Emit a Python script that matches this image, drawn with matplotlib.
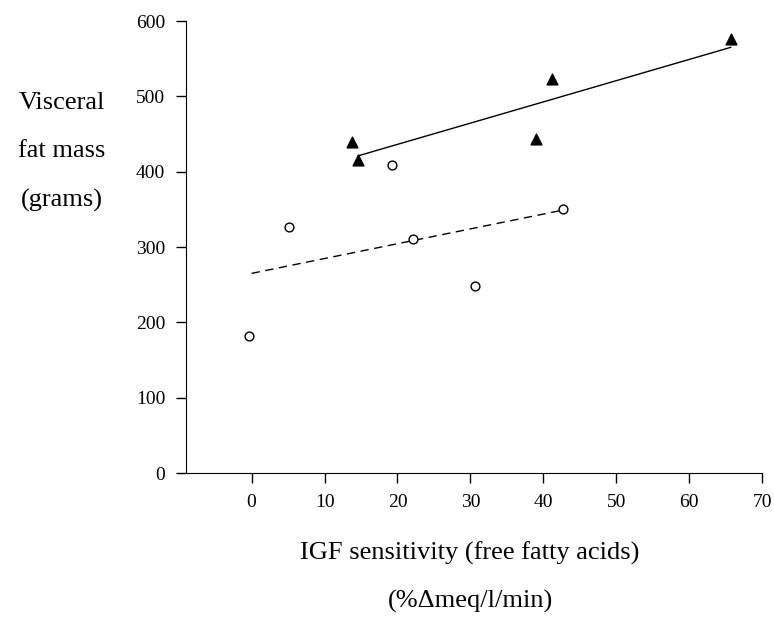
import matplotlib
matplotlib.use("Agg")
import matplotlib.pyplot as plt

# open circles group
circle_x = [-0.3, 5.1, 19.2, 22.2, 30.7, 42.7]
circle_y = [182, 327, 409, 310, 248, 351]
circle_fit_x = [0, 42.7]
circle_fit_y = [265, 349]

# filled triangles group
tri_x = [13.8, 14.6, 39.0, 41.2, 65.7]
tri_y = [440, 416, 444, 523, 576]
tri_fit_x = [14.6, 65.7]
tri_fit_y = [421, 565]

x_ticks = [0, 10, 20, 30, 40, 50, 60, 70]
y_ticks = [0, 100, 200, 300, 400, 500, 600]

ylabel_lines = ["Visceral", "fat mass", "(grams)"]
xlabel_lines = ["IGF sensitivity (free fatty acids)", "(%\u0394meq/l/min)"]

plt.rcParams["font.family"] = ["Liberation Serif", "DejaVu Serif"]

W, H = 774, 617
fig = plt.figure(figsize=(W / 100, H / 100), dpi=100)
ax = fig.add_axes([186 / W, 1 - 473 / H, (762 - 186) / W, (473 - 21) / H])

ax.plot(tri_fit_x, tri_fit_y, color="black", lw=1.0)
ax.plot(circle_fit_x, circle_fit_y, color="black", lw=1.0, dashes=(6, 4))
ax.scatter(tri_x, tri_y, marker="^", s=60, color="black", zorder=3)
ax.scatter(circle_x, circle_y, marker="o", s=40, facecolor="white",
           edgecolor="black", linewidth=1.0, zorder=3)

ax.set_xlim(-9, 70)
ax.set_ylim(0, 600)
ax.set_xticks(x_ticks)
ax.set_yticks(y_ticks)
ax.spines["top"].set_visible(False)
ax.spines["right"].set_visible(False)
ax.tick_params(direction="out", length=7, width=1, labelsize=14, pad=8)

# y label as three stacked lines, left of the axis
for txt, yb in zip(ylabel_lines, [109, 157, 207]):
    fig.text(62 / W, 1 - yb / H, txt, ha="center", va="baseline", fontsize=19)

# x label, two lines under the axis
for txt, yb in zip(xlabel_lines, [560, 608]):
    fig.text(470 / W, 1 - yb / H, txt, ha="center", va="baseline", fontsize=19)

fig.savefig("out.png", dpi=100)
